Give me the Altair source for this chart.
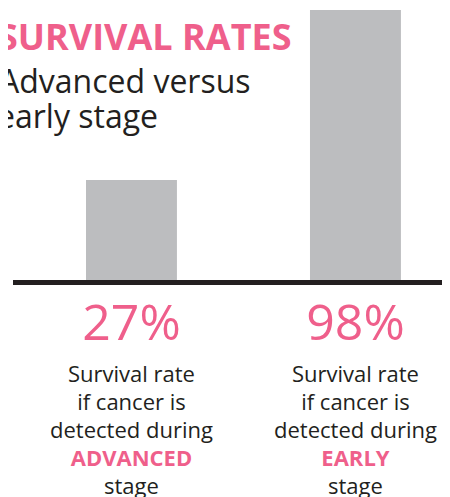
import altair as alt
import pandas as pd

# ---- data ----
categories = ["Advanced", "Early"]
rates = [27, 98]
rate_labels = ["27%", "98%"]
stage_words = ["ADVANCED", "EARLY"]
desc_lines = ["Survival rate", "if cancer is", "detected during"]
last_line = "stage"
title_text = "SURVIVAL RATES"
subtitle_lines = ["Advanced versus", "early stage"]

PINK = "#ef5f8b"
GREY = "#bcbdbf"
INK = "#231f20"
FONT = "Open Sans"

df = pd.DataFrame({"stage": categories, "rate": rates,
                   "label": rate_labels, "word": stage_words})

x_enc = alt.X("stage:N", axis=None, sort=categories,
              scale=alt.Scale(paddingInner=0.594, paddingOuter=0.2658, align=0.655))
y_scale = alt.Scale(type="pow", exponent=0.771, domain=[0, 98], range=[272, 2])

base = alt.Chart(df)

bars = base.mark_bar(color=GREY).encode(
    x=x_enc,
    y=alt.Y("rate:Q", axis=None, scale=y_scale),
)

baseline = alt.Chart(pd.DataFrame({"k": [0]})).mark_rule(
    color=INK, strokeWidth=5
).encode(x=alt.value(5), x2=alt.value(434), y=alt.value(274.5))

pct = base.mark_text(color=PINK, font=FONT, fontSize=50,
                     baseline="alphabetic", align="center").encode(
    x=x_enc, y=alt.value(331.5), text="label:N")

line_y = [373.5, 401.5, 429.5]
desc_layers = [
    base.mark_text(text=t, color=INK, font=FONT, fontSize=22,
                   baseline="alphabetic", align="center").encode(
        x=x_enc, y=alt.value(yy))
    for t, yy in zip(desc_lines, line_y)
]

words = base.mark_text(color=PINK, font=FONT, fontSize=22, fontWeight="bold",
                       baseline="alphabetic", align="center").encode(
    x=x_enc, y=alt.value(458), text="word:N")

stage_line = base.mark_text(text=last_line, color=INK, font=FONT, fontSize=22,
                            baseline="alphabetic", align="center").encode(
    x=x_enc, y=alt.value(485.5))

one = pd.DataFrame({"k": [0]})
title = alt.Chart(one).mark_text(text=title_text, color=PINK, font=FONT,
                                 fontSize=36, fontWeight="bold",
                                 align="left", baseline="alphabetic").encode(
    x=alt.value(-10), y=alt.value(42))
sub1 = alt.Chart(one).mark_text(text=subtitle_lines[0], color=INK, font=FONT,
                                fontSize=32, align="left", baseline="alphabetic").encode(
    x=alt.value(-9), y=alt.value(84.5))
sub2 = alt.Chart(one).mark_text(text=subtitle_lines[1], color=INK, font=FONT,
                                fontSize=32, align="left", baseline="alphabetic").encode(
    x=alt.value(-11), y=alt.value(120))

chart = alt.layer(bars, baseline, pct, *desc_layers, words, stage_line,
                  title, sub1, sub2).properties(
    width=434, height=489,
    autosize=alt.AutoSizeParams(type="none"),
    padding=0,
).configure_view(stroke=None)

chart.save("out.html", embed_options={"renderer": "svg", "actions": False})
